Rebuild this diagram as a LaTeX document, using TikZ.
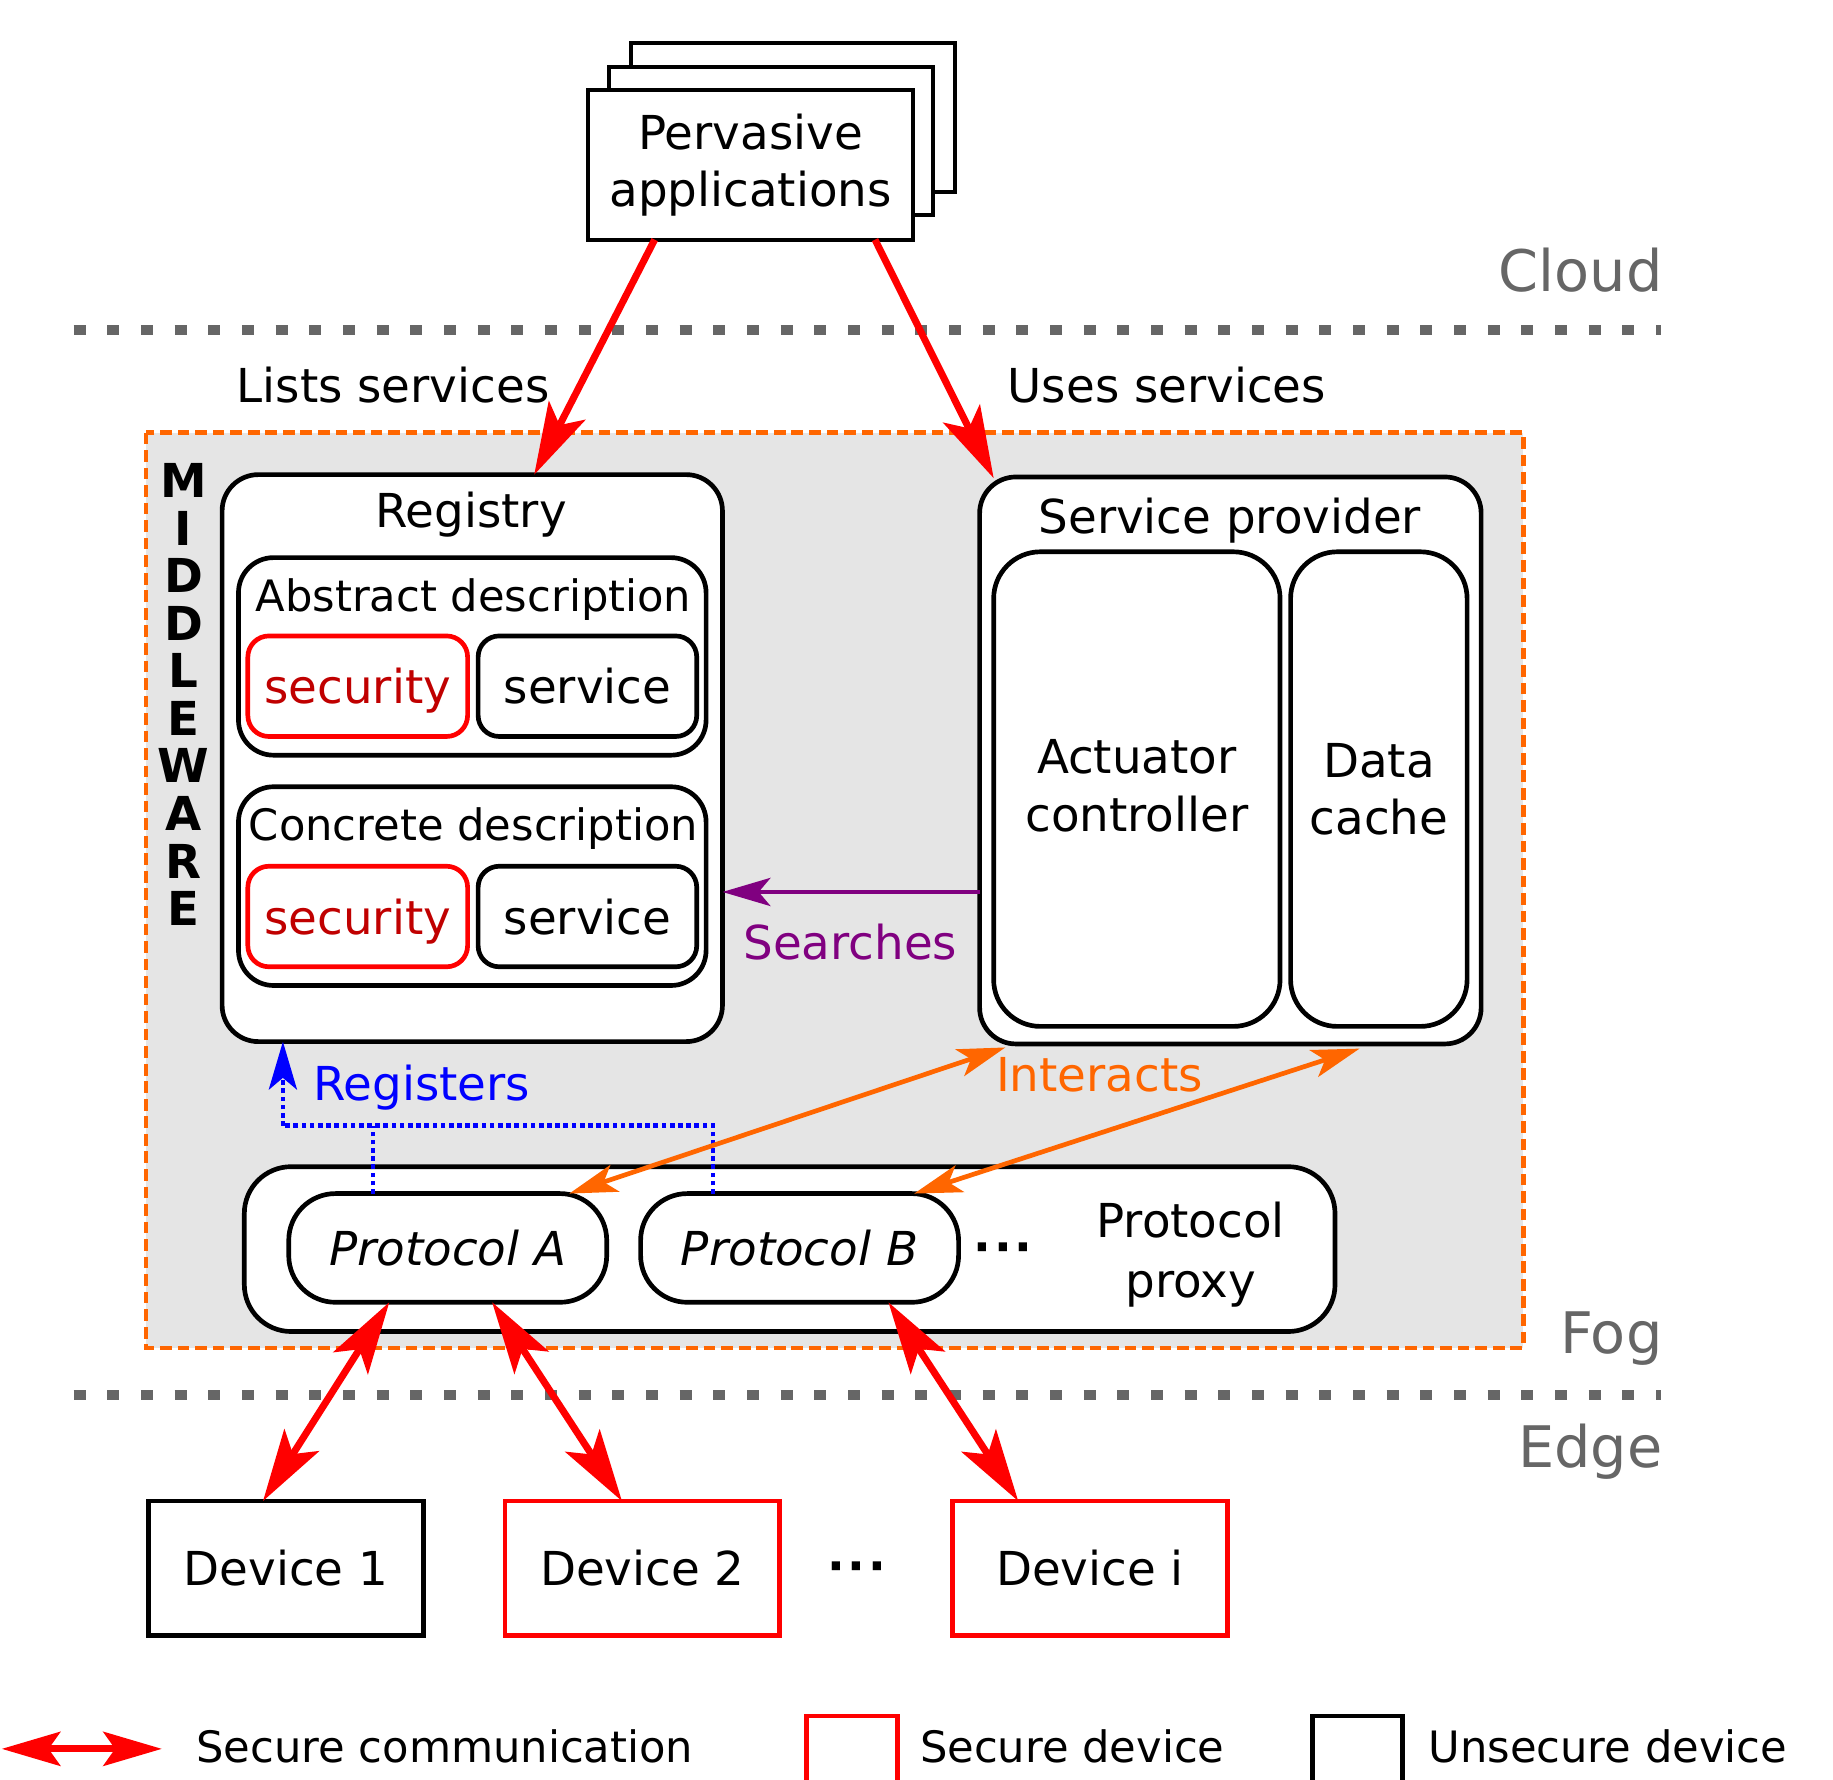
\documentclass[tikz,border=0pt]{standalone}
\usepackage{fontspec}
\setmainfont{DejaVu Sans}
\usetikzlibrary{arrows.meta,calc}

\definecolor{fogorange}{HTML}{FF6600}
\definecolor{layergray}{HTML}{666666}
\definecolor{mwfill}{HTML}{E5E5E5}
\definecolor{searchpurple}{HTML}{800080}
\definecolor{sectext}{HTML}{C00000}

\tikzset{
  bigtip/.tip={Stealth[length=30.8pt,width=17.5pt,inset=7pt]},
  smalltip/.tip={Stealth[length=20.5pt,width=12pt,inset=5pt]},
  legendtip/.tip={Stealth[length=25pt,width=14.5pt,inset=5pt]},
}
\newcommand{\middots}{\bfseries·\kern1.2pt·\kern1.2pt·}

\begin{document}
\begin{tikzpicture}[x=0.5pt,y=-0.5pt,
  every node/.style={inner sep=0pt,outer sep=0pt},
  main/.style={font=\fontsize{20pt}{24.5pt}\selectfont},
  small/.style={font=\fontsize{18.5pt}{22pt}\selectfont},
  layer/.style={font=\fontsize{24.5pt}{29pt}\selectfont,text=layergray,anchor=base east},
  box/.style={draw,line width=2pt,fill=white,anchor=north west,main},
  pill/.style={box,rounded corners=9pt,minimum width=94pt,minimum height=43pt,
    text height=15pt,text depth=0pt},
  secbox/.style={pill,draw=red,text=sectext},
  srvbox/.style={pill,minimum width=93.5pt},
  protobox/.style={box,rounded corners=20pt,minimum width=136pt,minimum height=46.5pt,
    font=\fontsize{20pt}{24.5pt}\selectfont\itshape},
  device/.style={box,minimum width=117.5pt,minimum height=57.5pt},
  appsheet/.style={draw,line width=1.7pt,fill=white,anchor=north west,
    minimum width=138.5pt,minimum height=63.5pt},
  separator/.style={draw=layergray,line width=4.3pt,dash pattern=on 5.1pt off 9.3pt},
  secure/.style={draw=red,line width=3pt,{bigtip}-{bigtip}},
  interact/.style={draw=fogorange,line width=2pt,{smalltip}-{smalltip}},
  register/.style={draw=blue,line width=2pt,dash pattern=on 2pt off 1.5pt},
]
\useasboundingbox (0,0) rectangle (1568,1522);

% layer separators and their names
\draw[separator] (63,282) -- (1421,282);
\draw[separator] (63,1193.5) -- (1421,1193.5);
\node[layer] (cloud) at (1422,249) {Cloud};
\node[layer] (fog) at (1422,1158) {Fog};
\node[layer] (edge) at (1422,1255) {Edge};

% middleware area
\draw[fogorange,fill=mwfill,line width=2pt,dash pattern=on 5pt off 2.5pt]
  (125,370) rectangle (1303,1153);
\foreach \ch [count=\i] in {M,I,D,D,L,E,W,A,R,E}
  \node[font=\fontsize{20pt}{20pt}\bfseries\selectfont,anchor=base]
    (mw\i) at (157,{425.5+(\i-1)*40.7}) {\ch};

% pervasive applications (stack of sheets)
\node[appsheet] (pv3) at (540,37) {};
\node[appsheet] (pv2) at (521,57) {};
\node[appsheet,align=center,main,minimum width=139pt,minimum height=64pt]
  (pv) at (503,77) {Pervasive\\applications};

% registry
\node[box,rounded corners=15.5pt,minimum width=214pt,minimum height=242.5pt] (reg) at (190,406) {};
\node[main,anchor=base] (regt) at (403,451) {Registry};
\node[box,rounded corners=15pt,minimum width=200pt,minimum height=84.5pt] (abs) at (204,477) {};
\node[small,anchor=base] (abst) at (405,523.5) {Abstract description};
\node[secbox] (sec1) at (212,544) {security};
\node[srvbox] (srv1) at (409,544) {service};
\node[box,rounded corners=15pt,minimum width=200pt,minimum height=85pt] (con) at (204,673) {};
\node[small,anchor=base] (cont) at (405,718.6) {Concrete description};
\node[secbox] (sec2) at (212,741) {security};
\node[srvbox] (srv2) at (409,741) {service};

% service provider
\node[box,rounded corners=15.5pt,minimum width=214.5pt,minimum height=242.5pt] (sp) at (838,408) {};
\node[main,anchor=base] (spt) at (1052,456) {Service provider};
\node[box,rounded corners=20pt,align=center,text depth=3pt,minimum width=122.5pt,minimum height=203pt]
  (act) at (850,472) {Actuator\\controller};
\node[box,rounded corners=20pt,align=center,minimum width=75.5pt,minimum height=203pt]
  (dc) at (1104,472) {Data\\cache};

% protocol proxy
\node[box,rounded corners=20pt,minimum width=466.5pt,minimum height=70.5pt] (px) at (209,998) {};
\node[align=center,font=\fontsize{20pt}{25.75pt}\selectfont] (pxt) at (1018.5,1073.5) {Protocol\\proxy};
\node[protobox] (pa) at (247,1021) {Protocol A};
\node[protobox] (pb) at (548,1021) {Protocol B};
\node[main,anchor=base] (pdots) at (858,1081) {\middots};

% devices
\node[device] (d1) at (127,1284) {Device 1};
\node[device,draw=red] (d2) at (432,1284) {Device 2};
\node[main,anchor=base] (ddots) at (733,1354) {\middots};
\node[device,draw=red] (di) at (815,1284) {Device i};

% cloud to middleware
\draw[red,line width=3pt,-{bigtip}] ($(pv.south west)+(57,0)$) -- ($(reg.north west)+(267,0)$);
\draw[red,line width=3pt,-{bigtip}] ($(pv.south west)+(245.5,0)$) -- ($(sp.north west)+(12,1)$);
\node[main,anchor=base east] (lists) at (470,344) {Lists services};
\node[main,anchor=base west] (uses) at (862,344) {Uses services};

% searches
\coordinate (sy) at (0,763);
\draw[searchpurple,line width=2pt,-{smalltip}] (sp.west |- sy) -- (reg.east |- sy);
\node[main,anchor=base west,text=searchpurple] (srch) at (636,821) {Searches};

% registers: both protocols join one dotted bus up to the registry
\coordinate (rj) at (242,963);
\coordinate (patop) at ($(pa.north west)+(72,0)$);
\draw[register] ($(pb.north west)+(62,0)$) |- (rj);
\draw[register] (patop) -- (patop |- rj);
\draw[register,-{smalltip}] (rj) -- (rj |- reg.south);
\node[main,anchor=base west,text=blue] (regs) at (268,941) {Registers};

% interacts
\draw[interact] ($(pa.north west)+(240,0)$) -- ($(sp.south west)+(22,3)$);
\draw[interact] ($(pb.north west)+(234,0)$) -- ($(sp.south west)+(325,4)$);
\node[main,anchor=base west,text=fogorange] (inter) at (852,934) {Interacts};

% device links
\draw[secure] ($(d1.north west)+(98,0)$) -- ($(pa.south west)+(86,0)$);
\draw[secure] ($(d2.north west)+(100,0)$) -- ($(pa.south west)+(174,0)$);
\draw[secure] ($(di.north west)+(56,0)$) -- ($(pb.south west)+(212,0)$);

% legend
\coordinate (lga) at (1.5,1496);
\coordinate (lgb) at (138.5,1496);
\draw[red,line width=3pt,{legendtip}-{legendtip}] (lga) -- (lgb);
\node[small,anchor=base west] (lg1) at (168,1508) {Secure communication};
\draw[red,line width=2pt] (690,1530) -- (690,1468) -- (768,1468) -- (768,1530);
\node[small,anchor=base west] (lg2) at (787,1508) {Secure device};
\draw[black,line width=2pt] (1123,1530) -- (1123,1468) -- (1200,1468) -- (1200,1530);
\node[small,anchor=base west] (lg3) at (1222,1508) {Unsecure device};
\end{tikzpicture}
\end{document}
